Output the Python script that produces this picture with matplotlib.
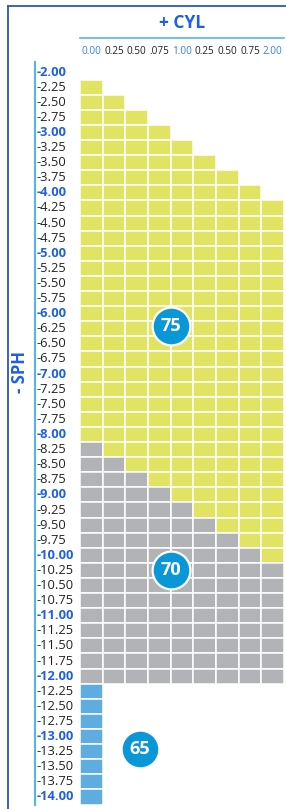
import matplotlib
matplotlib.use("Agg")
import matplotlib.pyplot as plt
from matplotlib.lines import Line2D
import matplotlib.transforms as mtransforms

# ---------------- data ----------------
sph_labels = ["-2.00", "-2.25", "-2.50", "-2.75", "-3.00", "-3.25", "-3.50", "-3.75",
              "-4.00", "-4.25", "-4.50", "-4.75", "-5.00", "-5.25", "-5.50", "-5.75",
              "-6.00", "-6.25", "-6.50", "-6.75", "-7.00", "-7.25", "-7.50", "-7.75",
              "-8.00", "-8.25", "-8.50", "-8.75", "-9.00", "-9.25", "-9.50", "-9.75",
              "-10.00", "-10.25", "-10.50", "-10.75", "-11.00", "-11.25", "-11.50", "-11.75",
              "-12.00", "-12.25", "-12.50", "-12.75", "-13.00", "-13.25", "-13.50", "-13.75",
              "-14.00"]
cyl_labels = ["0.00", "0.25", "0.50", ".075", "1.00", "0.25", "0.50", "0.75", "2.00"]
cyl_highlight = [True, False, False, False, True, False, False, False, True]

# number of available cells per SPH row (from CYL 0.00 onward)
n_cells = [0, 1, 2, 3, 4, 5, 6, 7, 8, 9, 9, 9, 9, 9, 9, 9,
           9, 9, 9, 9, 9, 9, 9, 9, 9, 9, 9, 9, 9, 9, 9, 9,
           9, 9, 9, 9, 9, 9, 9, 9, 9, 1, 1, 1, 1, 1, 1, 1, 1]
# of those, how many belong to the index 1.70 zone (grey)
n_70 = [0, 0, 0, 0, 0, 0, 0, 0, 0, 0, 0, 0, 0, 0, 0, 0,
        0, 0, 0, 0, 0, 0, 0, 0, 0, 1, 2, 3, 4, 5, 6, 7,
        8, 9, 9, 9, 9, 9, 9, 9, 9, 0, 0, 0, 0, 0, 0, 0, 0]
# rows belonging to the index 1.65 zone (blue)
is_65 = [False] * 41 + [True] * 8

zone_labels = ["75", "70", "65"]

# ---------------- style ----------------
W, H = 286, 809
YELLOW = "#E0E462"
GREY = "#B1B3B6"
BLUE_CELL = "#5FADE0"
CIRCLE = "#0A97D8"
FRAME = "#2B5BA8"
AXIS_LB = "#55B4EA"
TXT_BLUE = "#1F5FE6"

plt.rcParams["font.family"] = ["Open Sans", "DejaVu Sans"]
fig = plt.figure(figsize=(W / 100, H / 100), dpi=100)

def fx(px):
    return px / W

def fy(py):
    return 1 - py / H

nrows = len(sph_labels)
ncols = len(cyl_labels)
top_px, bot_px = 64.5, 804.5
left_px, right_px = 80, 284
ax = fig.add_axes([fx(left_px), fy(bot_px), fx(right_px) - fx(left_px),
                   (bot_px - top_px) / H])
ax.set_xlim(0, ncols)
ax.set_ylim(nrows, 0)
ax.axis("off")

for r in range(nrows):
    n = n_cells[r]
    if n == 0:
        continue
    cols = list(range(n))
    colors = []
    for c in cols:
        if is_65[r]:
            colors.append(BLUE_CELL)
        elif c < n_70[r]:
            colors.append(GREY)
        else:
            colors.append(YELLOW)
    ax.bar(cols, [1] * n, width=1, bottom=r, align="edge", color=colors,
           edgecolor="white", linewidth=1.1)

# zone circles
circle_pos = [(4.01, 17.3), (4.01, 33.5), (2.65, 45.3)]
for lab, (cx, cy) in zip(zone_labels, circle_pos):
    ax.scatter([cx], [cy], s=740, color=CIRCLE, edgecolors="white",
               linewidths=1.6, zorder=5, clip_on=False)
    ax.text(cx, cy, lab, ha="center", va="center", color="white",
            fontsize=13, fontweight="bold", zorder=6)

# row labels
trans_rows = mtransforms.blended_transform_factory(fig.transFigure, ax.transData)
for r, lab in enumerate(sph_labels):
    bold = lab.endswith(".00")
    ax.text(fx(36.5), r + 0.5, lab, transform=trans_rows, ha="left", va="center",
            fontsize=9.3, color=TXT_BLUE if bold else "#222222",
            fontweight="bold" if bold else "normal")

# column labels
trans_cols = mtransforms.blended_transform_factory(ax.transData, fig.transFigure)
for c, lab in enumerate(cyl_labels):
    ax.text(c + 0.5, fy(51), lab, transform=trans_cols, ha="center", va="center",
            fontsize=7.2, color="#3A7FE8" if cyl_highlight[c] else "#222222")

# titles
fig.text(fx(182), fy(23.5), "+ CYL", ha="center", va="center", fontsize=12.5,
         fontweight="bold", color=TXT_BLUE)
fig.text(fx(20), fy(372), "- SPH", ha="center", va="center", fontsize=12,
         fontweight="bold", color=TXT_BLUE, rotation=90)

# lines
fig.add_artist(Line2D([fx(80), fx(284)], [fy(38), fy(38)], color=AXIS_LB, lw=1.2))
fig.add_artist(Line2D([fx(35), fx(35)], [fy(62), fy(805)], color=AXIS_LB, lw=1.5))
fig.add_artist(Line2D([fx(7.5), fx(7.5)], [fy(6), fy(809)], color=FRAME, lw=1.3))
fig.add_artist(Line2D([fx(7.5), fx(286)], [fy(6), fy(6)], color=FRAME, lw=1.3))

fig.savefig("out.png", dpi=100)
